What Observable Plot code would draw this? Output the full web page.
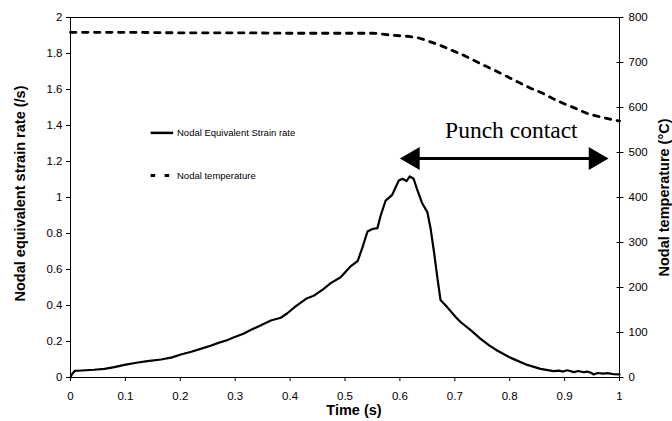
<!DOCTYPE html>
<html>
<head>
<meta charset="utf-8">
<script src="https://cdn.jsdelivr.net/npm/d3@7"></script>
<script src="https://cdn.jsdelivr.net/npm/@observablehq/plot@0.6"></script>
<style>
  html, body { margin: 0; padding: 0; background: #fff; }
  #chart { width: 672px; height: 421px; }
</style>
</head>
<body>
<div id="chart"></div>
<script>
// ---- data ----
const strainTime = [
  0, 0.003, 0.008, 0.02, 0.043, 0.062, 0.08, 0.098, 0.12, 0.14,
  0.165, 0.185, 0.201, 0.22, 0.237, 0.255, 0.268, 0.285, 0.298, 0.315,
  0.329, 0.345, 0.365, 0.383, 0.395, 0.41, 0.429, 0.444, 0.46, 0.474,
  0.492, 0.51, 0.523, 0.532, 0.541, 0.55, 0.559, 0.565, 0.574, 0.586,
  0.598, 0.605, 0.612, 0.618, 0.625, 0.632, 0.641, 0.65, 0.656, 0.662,
  0.668, 0.674, 0.686, 0.702, 0.711, 0.73, 0.747, 0.762, 0.777, 0.802,
  0.832, 0.856, 0.88, 0.89, 0.896, 0.905, 0.917, 0.925, 0.935, 0.941,
  0.948, 0.953, 0.96, 0.97, 0.978, 0.99, 1.0
];
const strainRate = [
  0, 0.02, 0.037, 0.039, 0.043, 0.048, 0.058, 0.070, 0.082, 0.091,
  0.100, 0.112, 0.128, 0.143, 0.159, 0.176, 0.191, 0.207, 0.224, 0.243,
  0.265, 0.288, 0.317, 0.332, 0.357, 0.395, 0.437, 0.456, 0.49, 0.524,
  0.557, 0.617, 0.646, 0.724, 0.811, 0.825, 0.830, 0.900, 0.983, 1.015,
  1.094, 1.104, 1.091, 1.117, 1.104, 1.039, 0.965, 0.919, 0.826, 0.70,
  0.56, 0.43, 0.391, 0.335, 0.307, 0.26, 0.215, 0.18, 0.150, 0.109,
  0.070, 0.048, 0.035, 0.038, 0.033, 0.040, 0.030, 0.036, 0.029, 0.033,
  0.026, 0.017, 0.025, 0.022, 0.024, 0.018, 0.017
];
const tempTime = [
  0, 0.1, 0.2, 0.3, 0.4, 0.5, 0.55, 0.583, 0.632, 0.653,
  0.674, 0.695, 0.716, 0.736, 0.756, 0.777, 0.798, 0.816, 0.838, 0.859,
  0.880, 0.898, 0.920, 0.941, 0.962, 0.987, 1.0
];
const temperature = [
  767, 767, 766, 766, 765, 765, 765, 761, 755, 747,
  738, 727, 716, 704, 692, 680, 667, 656, 643, 632,
  619, 609, 598, 587, 580, 573, 570
];
const xTicks = [0, 0.1, 0.2, 0.3, 0.4, 0.5, 0.6, 0.7, 0.8, 0.9, 1];
const yTicks = [0, 0.2, 0.4, 0.6, 0.8, 1, 1.2, 1.4, 1.6, 1.8, 2];
const tempTicks = [0, 100, 200, 300, 400, 500, 600, 700, 800];
const seriesNames = ["Nodal Equivalent Strain rate", "Nodal temperature"];
const xLabel = "Time (s)";
const yLabel = "Nodal equivalent strain rate (/s)";
const y2Label = "Nodal temperature (°C)";
const annotationText = "Punch contact";
const arrowSpan = [0.611, 0.969];   // time span of contact arrow
const arrowLevel = 1.217;           // strain-rate level of arrow
const annotationPos = {x: 0.803, y: 1.372};
const legendPos = {x0: 0.146, x1: 0.187, xText: 0.194, y: [1.359, 1.122]};

// ---- build ----
const tempMax = 800, yMax = 2;
const toY = t => t * yMax / tempMax;
const strainData = strainTime.map((t, i) => ({t, v: strainRate[i]}));
const tempData = tempTime.map((t, i) => ({t, v: toY(temperature[i])}));

const chart = Plot.plot({
  width: 672,
  height: 421,
  marginLeft: 70,
  marginRight: 53,
  marginTop: 17,
  marginBottom: 44,
  style: {fontFamily: "'Liberation Sans', Arial, sans-serif", fontSize: "11.5px", color: "#000", background: "#fff"},
  x: {domain: [0, 1]},
  y: {domain: [0, 2]},
  marks: [
    Plot.frame({stroke: "#000", strokeWidth: 1}),
    Plot.axisX(xTicks, {tickSize: 4, tickPadding: 10, tickFormat: d => String(d), label: null, stroke: "#000"}),
    Plot.axisY(yTicks, {anchor: "left", tickSize: 4, tickPadding: 4, tickFormat: d => String(d), label: null, stroke: "#000"}),
    Plot.axisY(tempTicks.map(toY), {anchor: "right", tickSize: 7, dx: -3.5, tickPadding: 5.5, tickFormat: d => String(Math.round(d * tempMax / yMax)), label: null, stroke: "#000"}),
    Plot.line(tempData, {x: "t", y: "v", stroke: "#000", strokeWidth: 2.8, strokeDasharray: "5.5,6.5", curve: "monotone-x"}),
    Plot.line(strainData, {x: "t", y: "v", stroke: "#000", strokeWidth: 2.2, curve: "linear"}),
    // arrow
    Plot.ruleY([arrowLevel], {x1: arrowSpan[0] + 0.02, x2: arrowSpan[1] - 0.02, stroke: "#000", strokeWidth: 3}),
    Plot.dot([{x: arrowSpan[0] + 0.013, r: -90}, {x: arrowSpan[1] - 0.013, r: 90}], {x: "x", y: () => arrowLevel, rotate: "r", symbol: "triangle", r: 8.5, fill: "#000", stroke: "none"}),
    Plot.text([annotationText], {x: () => annotationPos.x, y: () => annotationPos.y, fontFamily: "'Liberation Serif', 'Times New Roman', serif", fontSize: 23.5, textAnchor: "middle", lineAnchor: "middle", fill: "#000"}),
    // legend
    Plot.link([0], {x1: () => legendPos.x0, x2: () => legendPos.x1, y1: () => legendPos.y[0], y2: () => legendPos.y[0], stroke: "#000", strokeWidth: 2.5}),
    Plot.link([0], {x1: () => legendPos.x0, x2: () => legendPos.x1, y1: () => legendPos.y[1], y2: () => legendPos.y[1], stroke: "#000", strokeWidth: 3, strokeDasharray: "4.5,9.5"}),
    Plot.text(seriesNames, {x: () => legendPos.xText, y: (d, i) => legendPos.y[i], textAnchor: "start", fontSize: 9.5, fill: "#000"}),
    // axis titles
    Plot.text([xLabel], {frameAnchor: "bottom", dx: 9, dy: 33, fontWeight: "bold", fontSize: 14.5, textAnchor: "middle", lineAnchor: "middle", fill: "#000"}),
    Plot.text([yLabel], {frameAnchor: "left", dx: -50.5, dy: -4, rotate: -90, fontWeight: "bold", fontSize: 14.5, textAnchor: "middle", lineAnchor: "middle", fill: "#000"}),
    Plot.text([y2Label], {frameAnchor: "right", dx: 45, dy: 0, rotate: -90, fontWeight: "bold", fontSize: 14.5, textAnchor: "middle", lineAnchor: "middle", fill: "#000"})
  ]
});
document.getElementById("chart").appendChild(chart);
</script>
</body>
</html>
